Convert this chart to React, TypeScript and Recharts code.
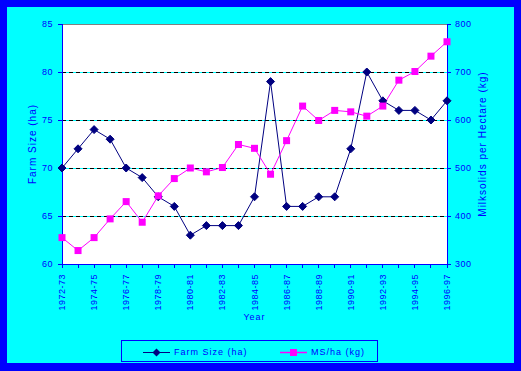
import React from 'react';
import { LineChart, Line, XAxis, YAxis, CartesianGrid, ReferenceLine, Legend } from 'recharts';

const years = ['1972-73','1973-74','1974-75','1975-76','1976-77','1977-78','1978-79','1979-80','1980-81','1981-82','1982-83','1983-84','1984-85','1985-86','1986-87','1987-88','1988-89','1989-90','1990-91','1991-92','1992-93','1993-94','1994-95','1995-96','1996-97'];
const farmSize = [70,72,74,73,70,69,67,66,63,64,64,64,67,79,66,66,67,67,72,80,77,76,76,75,77];
const msPerHa = [355,328,355,394,430,387,442,478,500,492,501,549,541,487,557,629,599,620,617,608,629,683,701,733,763];
const leftTicks = [60,65,70,75,80,85];
const rightTicks = [300,400,500,600,700,800];
const gridValues = [65,70,75,80];

const data = years.map((y, i) => ({ year: y, farm: farmSize[i], ms: msPerHa[i] }));

const BLUE = '#0000FF';
const CYAN = '#00FFFF';
const NAVY = '#000080';
const PINK = '#FF00FF';
const FONT = '"Liberation Sans", Arial, sans-serif';

const Diamond = (p: any) => {
  const { cx, cy } = p;
  if (cx == null || cy == null) return <g />;
  return <path d={`M${cx},${cy - 4}L${cx + 4},${cy}L${cx},${cy + 4}L${cx - 4},${cy}Z`} fill={NAVY} stroke={NAVY} strokeWidth={1} />;
};

const Square = (p: any) => {
  const { cx, cy } = p;
  if (cx == null || cy == null) return <g />;
  return <rect x={cx - 3.5} y={cy - 3.5} width={7} height={7} fill={PINK} stroke="none" />;
};

const XTick = (props: any) => {
  const { x, y, payload, index } = props;
  if (index % 2 !== 0) return <g />;
  return (
    <text x={x} y={y} transform={`rotate(-90 ${x} ${y})`} textAnchor="end" dominantBaseline="central"
      fill={BLUE} fontSize={9} fontFamily={FONT} letterSpacing={0.5}>{payload.value}</text>
  );
};

const LegendContent = (props: any) => {
  const { payload } = props;
  const lefts = [21, 158];
  return (
    <div style={{ position: 'relative', width: 255, height: 20, border: `1px solid ${BLUE}`, fontFamily: FONT, fontSize: 9, color: BLUE, letterSpacing: 1 }}>
      {(payload || []).map((item: any, i: number) => {
        const isFarm = item.dataKey === 'farm';
        const col = isFarm ? NAVY : PINK;
        return (
          <div key={i} style={{ position: 'absolute', left: lefts[i], top: 0, height: 20, display: 'flex', alignItems: 'center' }}>
            <svg width={28} height={20}>
              <line x1={0} y1={11.5} x2={27} y2={11.5} stroke={col} strokeWidth={isFarm ? 1 : 1.5} />
              {isFarm
                ? <path d="M13.5,7.5L17.5,11.5L13.5,15.5L9.5,11.5Z" fill={NAVY} />
                : <rect x={10} y={8} width={7} height={7} fill={PINK} />}
            </svg>
            <span style={{ marginLeft: 3, whiteSpace: 'nowrap', lineHeight: '20px', position: 'relative', top: 1 }}>{item.value}</span>
          </div>
        );
      })}
    </div>
  );
};

const tickStyle = { fill: BLUE, fontSize: 9, fontFamily: FONT, letterSpacing: 0.5 };

export default function App() {
  return (
    <div style={{ position: 'absolute', left: 0, top: 0, width: 521, height: 371, background: BLUE }}>
      <div style={{ position: 'absolute', left: 7, top: 7, width: 507, height: 356, background: CYAN }}>
        <LineChart width={507} height={356} data={data} margin={{ top: 17, right: 0, bottom: 0, left: 0 }}>
          <CartesianGrid horizontal={false} vertical={false} fill="#FFFFFF" stroke="none" yAxisId="left" />
          <XAxis dataKey="year" interval={0} height={99} tick={<XTick />} tickSize={4} tickMargin={6}
            axisLine={{ stroke: BLUE, shapeRendering: 'crispEdges' }} tickLine={{ stroke: BLUE, shapeRendering: 'crispEdges' }}
            label={{ value: 'Year', position: 'insideTop', offset: 50, fill: BLUE, fontSize: 9, fontFamily: FONT, letterSpacing: 1 }} />
          <YAxis yAxisId="left" domain={[60, 85]} ticks={leftTicks} width={55} tickSize={4} tickMargin={5}
            axisLine={{ stroke: BLUE, shapeRendering: 'crispEdges' }} tickLine={{ stroke: BLUE, shapeRendering: 'crispEdges' }} tick={tickStyle} allowDataOverflow
            label={{ value: 'Farm Size (ha)', angle: -90, position: 'insideLeft', offset: 25, fill: BLUE, fontSize: 10, fontFamily: FONT, letterSpacing: 1, style: { textAnchor: 'middle' } }} />
          <YAxis yAxisId="right" orientation="right" domain={[300, 800]} ticks={rightTicks} width={67} tickSize={4} tickMargin={4}
            axisLine={{ stroke: BLUE, shapeRendering: 'crispEdges' }} tickLine={{ stroke: BLUE, shapeRendering: 'crispEdges' }} tick={tickStyle} allowDataOverflow
            label={{ value: 'Milksolids per Hectare (kg)', angle: -90, position: 'insideLeft', offset: 35, fill: BLUE, fontSize: 10, fontFamily: FONT, letterSpacing: 1, style: { textAnchor: 'middle' } }} />
          {gridValues.map(v => (
            <ReferenceLine key={`c${v}`} yAxisId="left" y={v} stroke={CYAN} strokeWidth={1} shapeRendering="crispEdges" />
          ))}
          {gridValues.map(v => (
            <ReferenceLine key={`b${v}`} yAxisId="left" y={v} stroke="#000000" strokeWidth={1} strokeDasharray="4 3" shapeRendering="crispEdges" />
          ))}
          <ReferenceLine yAxisId="left" y={85} stroke="#808080" strokeWidth={1} shapeRendering="crispEdges" />
          <Legend layout="horizontal" verticalAlign="middle" align="center" content={<LegendContent />}
            wrapperStyle={{ top: 333, left: 114, width: 257, height: 22, bottom: 'auto' }} />
          <Line yAxisId="left" type="linear" dataKey="farm" name="Farm Size (ha)" stroke={NAVY} strokeWidth={1}
            dot={<Diamond />} activeDot={false} isAnimationActive={false} />
          <Line yAxisId="right" type="linear" dataKey="ms" name="MS/ha (kg)" stroke={PINK} strokeWidth={1}
            dot={<Square />} activeDot={false} isAnimationActive={false} />
        </LineChart>
      </div>
    </div>
  );
}
